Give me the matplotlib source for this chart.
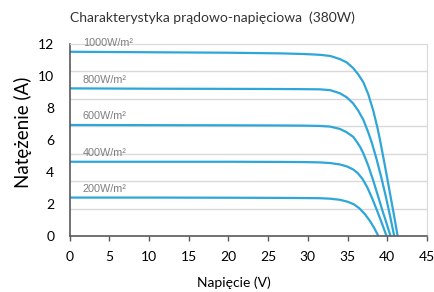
import numpy as np
import matplotlib
matplotlib.use("Agg")
import matplotlib.pyplot as plt

# napięcie (V) i prąd (A) dla każdego natężenia promieniowania
irradiance_labels = ["1000W/m²", "800W/m²", "600W/m²", "400W/m²", "200W/m²"]

v_1000 = [0, 10, 20, 26.5, 29.5, 31.5, 32.8, 34.05, 34.9, 35.7, 36.35, 37.0, 37.6, 38.24, 38.75, 39.1, 39.7, 40.26, 40.8, 41.3]
i_1000 = [11.52, 11.49, 11.46, 11.42, 11.38, 11.33, 11.26, 11.06, 10.85, 10.5, 10.1, 9.6, 8.87, 7.83, 6.79, 5.96, 4.4, 2.88, 1.42, 0]

v_800 = [0, 10, 20, 26.5, 29.5, 31.5, 32.8, 34.05, 34.9, 35.7, 36.35, 37.0, 37.6, 38.04, 38.6, 39.2, 39.8, 40.35, 40.87]
i_800 = [9.23, 9.21, 9.2, 9.19, 9.18, 9.17, 9.12, 8.92, 8.67, 8.29, 7.83, 7.25, 6.48, 5.85, 4.9, 3.75, 2.5, 1.25, 0]

v_600 = [0, 10, 20, 26.5, 29.5, 31.5, 32.8, 34.05, 34.9, 35.7, 36.15, 36.6, 37.0, 37.6, 38.24, 38.8, 39.35, 39.9, 40.4]
i_600 = [6.94, 6.93, 6.92, 6.91, 6.9, 6.88, 6.84, 6.69, 6.48, 6.2, 5.9, 5.55, 5.15, 4.4, 3.45, 2.55, 1.65, 0.8, 0]

v_400 = [0, 10, 20, 26.5, 29.5, 31.5, 32.8, 34.05, 34.9, 35.7, 36.3, 36.9, 37.5, 38.1, 38.7, 39.3, 39.9]
i_400 = [4.64, 4.64, 4.64, 4.63, 4.62, 4.6, 4.56, 4.47, 4.35, 4.16, 3.92, 3.55, 3.02, 2.35, 1.6, 0.82, 0]

v_200 = [0, 10, 20, 26.5, 29.5, 31.5, 32.8, 34.05, 35.0, 35.8, 36.5, 37.2, 37.8, 38.35, 38.87]
i_200 = [2.4, 2.4, 2.39, 2.38, 2.37, 2.36, 2.33, 2.26, 2.14, 1.98, 1.72, 1.35, 0.95, 0.5, 0]

curves = [(v_1000, i_1000), (v_800, i_800), (v_600, i_600), (v_400, i_400), (v_200, i_200)]

x_ticks = [0, 5, 10, 15, 20, 25, 30, 35, 40, 45]
y_ticks = [0, 2, 4, 6, 8, 10, 12]

line_color = "#2ea6d7"
grid_color = "#d9d9d9"
axis_color = "#595959"

fig = plt.figure(figsize=(4.35, 2.92), dpi=100)
ax = fig.add_axes([0.16, 0.192, 0.8216, 0.657])

for (v, i), lab in zip(curves, irradiance_labels):
    ax.plot(v, i, color=line_color, lw=1.6, solid_joinstyle="round")
    ax.text(1.65, i[0] + 0.55, lab, fontsize=7.8, color="#7f7f7f",
            family="Liberation Sans", va="center", ha="left")

ax.set_xlim(0, 45)
ax.set_ylim(0, 12)
ax.set_xticks(x_ticks)
ax.set_yticks(y_ticks)
# linie siatki nie pokrywają się z podziałką osi Y (7 przedziałów)
ax.set_yticks([12 * k / 7 for k in range(1, 7)], minor=True)
ax.grid(True, which="minor", axis="y", color=grid_color, lw=1.0)
ax.set_axisbelow(True)

ax.tick_params(axis="y", which="both", length=0, pad=11, labelsize=10)
ax.tick_params(axis="x", length=3.5, width=1.0, color=axis_color, pad=7, labelsize=10)
for lbl in ax.get_xticklabels() + ax.get_yticklabels():
    lbl.set_family("Lato")

ax.spines["left"].set_color(axis_color)
ax.spines["bottom"].set_color(axis_color)
ax.spines["left"].set_linewidth(1.2)
ax.spines["bottom"].set_linewidth(1.2)
ax.spines["top"].set_color(grid_color)
ax.spines["right"].set_color(grid_color)

fig.text(0.537, 0.031, "Napięcie (V)", family="Lato", fontsize=10,
         ha="center", va="center")
fig.text(0.052, 0.546, "Natężenie (A)", family="Lato", fontsize=13.5,
         rotation=90, ha="center", va="center")
fig.text(0.16, 0.94, "Charakterystyka prądowo-napięciowa  (380W)", family="Lato",
         fontsize=10, color="#333333", va="center", ha="left")

fig.savefig("out.png", dpi=100)
